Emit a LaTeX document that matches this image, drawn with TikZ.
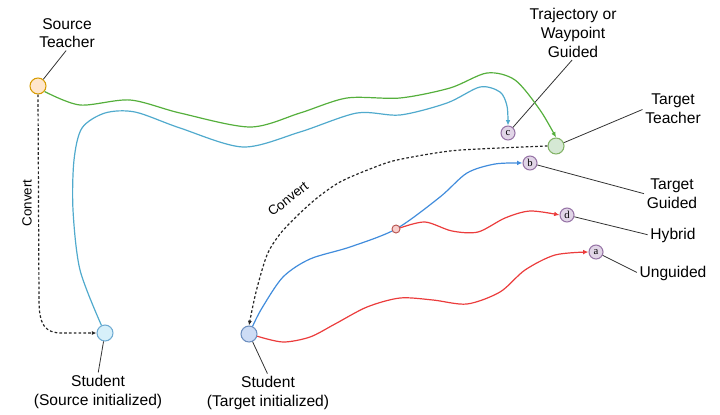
\documentclass[tikz,border=0pt]{standalone}
\usepackage{fontspec}
\setmainfont{Liberation Sans}
\newfontfamily\letterfont{Liberation Serif}
\usetikzlibrary{arrows.meta}

\definecolor{orangeedge}{RGB}{215,155,0}
\definecolor{orangefill}{RGB}{255,230,204}
\definecolor{greenedge}{RGB}{130,179,102}
\definecolor{greenfill}{RGB}{213,232,212}
\definecolor{blueedge}{RGB}{108,142,191}
\definecolor{bluefill}{RGB}{205,220,245}
\definecolor{cyanedge}{RGB}{110,170,210}
\definecolor{cyanfill}{RGB}{215,240,250}
\definecolor{purpleedge}{RGB}{150,115,166}
\definecolor{purplefill}{RGB}{225,213,231}
\definecolor{redfill}{RGB}{248,206,204}
\definecolor{rededge}{RGB}{184,84,80}
\definecolor{greentrail}{RGB}{85,175,60}
\definecolor{cyantrail}{RGB}{80,170,205}
\definecolor{bluetrail}{RGB}{65,140,220}
\definecolor{redtrail}{RGB}{235,60,60}

\begin{document}
\begin{tikzpicture}[x=0.75pt,y=-0.75pt,
  every node/.style={font=\fontsize{11.7}{14}\selectfont},
  dot/.style={circle, draw, line width=0.8pt, minimum size=12pt, inner sep=0pt},
  lettr/.style={circle, draw=purpleedge, fill=purplefill, line width=0.8pt,
    minimum size=10.5pt, inner sep=0pt, font=\letterfont\fontsize{8}{8}\selectfont},
  lbl/.style={align=center, inner sep=1pt},
  leader/.style={draw=black!80, line width=0.6pt, shorten >=1pt},
  trail/.style={line width=0.9pt, -{Latex[length=4pt,width=3.5pt]}},
  convert/.style={black!85, line width=0.9pt, dash pattern=on 2pt off 1.6pt,
    -{Latex[length=3.5pt,width=3pt]}}]
\useasboundingbox (0,0) rectangle (720,414);

% teachers and students
\node [dot, draw=orangeedge, fill=orangefill] (ts) at (38,86) {};
\node [dot, draw=greenedge, fill=greenfill] (tt) at (556,146) {};
\node [dot, draw=cyanedge, fill=cyanfill] (ss) at (105,333) {};
\node [dot, draw=blueedge, fill=bluefill] (st) at (249,334) {};

% outcomes
\node [lettr] (c) at (508,133) {c};
\node [lettr] (b) at (530,163) {b};
\node [lettr] (d) at (567,215) {d};
\node [lettr] (a) at (596,252) {a};

% labels
\node [lbl] (lts) at (67,33) {Source\\Teacher};
\node [lbl] (lss) at (98,392) {Student\\(Source initialized)};
\node [lbl] (lst) at (268,393) {Student\\(Target initialized)};
\node [lbl] (lc) at (573,33) {Trajectory or\\Waypoint\\Guided};
\node [lbl] (ltt) at (673,109) {Target\\Teacher};
\node [lbl] (lb) at (672,194) {Target\\Guided};
\node [lbl] (lhy) at (673,235) {Hybrid};
\node [lbl] (lu) at (673,273) {Unguided};

\draw [leader] (ts) -- (lts.south);
\draw [leader] (ss) -- (lss.north);
\draw [leader] (st) -- (lst.north);
\draw [leader] (c) -- (lc.south);
\draw [leader] (tt) -- (ltt.west);
\draw [leader] (b) -- (lb.west);
\draw [leader] (d) -- (lhy.west);
\draw [leader] (a) -- (lu.west);

% convert arrows
\draw [convert] (ts.south) -- (39,300) .. controls (39,325) and (45,333) .. (62,333) -- (ss.west);
\node [rotate=90, font=\fontsize{10}{12}\selectfont] (cv1) at (27,203) {Convert};
\draw [convert] plot [smooth] coordinates {(tt.west) (500,148) (450,151) (397,160) (370,169) (340,182) (317,198) (297,216) (280,234) (267,255) (256,292) (st.north)};
\node [rotate=38, font=\fontsize{10}{12}\selectfont] (cv2) at (288,199) {Convert};

% trajectories
\draw [trail, greentrail] plot [smooth] coordinates {(ts.-40) (80,105) (130,100) (180,113) (250,127) (300,113) (347,98) (400,98) (450,88) (487,73) (515,80) (540,110) (tt.north)};
\draw [trail, cyantrail] plot [smooth] coordinates {(ss.115) (80,270) (73,210) (74,160) (82,128) (105,113) (135,112) (180,128) (243,147) (300,132) (357,113) (400,115) (447,103) (480,87) (500,92) (507,106) (c.north)};
\draw [trail, bluetrail] plot [smooth] coordinates {(st.65) (262,308) (283,277) (310,259) (350,247) (396,229) (440,197) (467,173) (495,164) (b.west)};
\node [circle, draw=rededge, fill=redfill, line width=0.7pt, minimum size=6pt, inner sep=0pt] (br) at (396,229) {};
\draw [trail, redtrail] plot [smooth] coordinates {(br.15) (425,222) (452,231) (478,232) (505,218) (530,211) (d.west)};
\draw [trail, redtrail] plot [smooth] coordinates {(st.-15) (283,342) (310,337) (335,324) (367,307) (400,298) (433,300) (467,304) (500,292) (525,270) (555,255) (a.west)};

\end{tikzpicture}
\end{document}
